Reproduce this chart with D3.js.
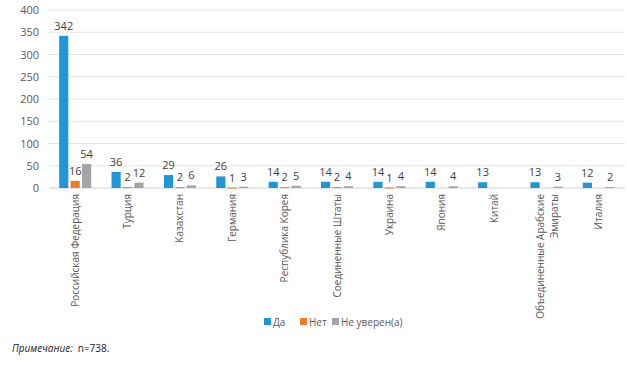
<!DOCTYPE html>
<meta charset="utf-8">
<html>
<head>
<script src="https://cdn.jsdelivr.net/npm/d3@7"></script>
<style>
body { margin: 0; background: #fff; }
text { font-family: 'Open Sans', 'Liberation Sans', sans-serif; }
</style>
</head>
<body>
<div id="chart"></div>
<script>

// data
var countries = ["Российская Федерация", "Турция", "Казахстан", "Германия", "Республика Корея",
  "Соединенные Штаты", "Украина", "Япония", "Китай", "Объединенные Арабские Эмираты", "Италия"];
var seriesNames = ["Да", "Нет", "Не уверен(а)"];
var yes = [342, 36, 29, 26, 14, 14, 14, 14, 13, 13, 12];
var no = [16, 2, 2, 1, 2, 2, 1, null, null, null, null];
var unsure = [54, 12, 6, 3, 5, 4, 4, 4, null, 3, 2];
var yTicks = [0, 50, 100, 150, 200, 250, 300, 350, 400];
var colors = ["#1F96D6", "#F47B20", "#A5A5A5"];

var W = 627, H = 369;
var margin = {top: 10, right: 2, bottom: 181, left: 49};
var width = W - margin.left - margin.right,
    height = H - margin.top - margin.bottom;

var svg = d3.select("#chart").append("svg")
  .attr("width", W).attr("height", H);
var g = svg.append("g")
  .attr("transform", "translate(" + margin.left + "," + margin.top + ")");

var x = d3.scaleBand().domain(countries).range([0, width]);
var x1 = d3.scaleBand().domain(seriesNames).range([-16, 16]).paddingInner(0.2);
var y = d3.scaleLinear().domain([0, 400]).range([height, 0]);

// gridlines
g.selectAll(".grid").data(yTicks).enter().append("line")
  .attr("x1", 0).attr("x2", width)
  .attr("y1", function(d) { return y(d); })
  .attr("y2", function(d) { return y(d); })
  .attr("stroke", function(d) { return d === 0 ? "#d0d0d0" : "#e4e4e4"; })
  .attr("stroke-width", 1);

// y axis labels
var yAxis = g.append("g").call(d3.axisLeft(y).tickValues(yTicks).tickSize(0).tickPadding(10));
yAxis.select(".domain").remove();
yAxis.selectAll("text").attr("fill", "#595959").style("font-size", "11px");

var series = [yes, no, unsure];
series.forEach(function(vals, si) {
  var name = seriesNames[si];
  var pts = countries.map(function(c, i) { return {c: c, v: vals[i]}; })
    .filter(function(d) { return d.v != null; });
  g.selectAll(".bar" + si).data(pts).enter().append("rect")
    .attr("x", function(d) { return x(d.c) + x.bandwidth() / 2 + x1(name); })
    .attr("y", function(d) { return y(d.v); })
    .attr("width", x1.bandwidth())
    .attr("height", function(d) { return Math.max(1, height - y(d.v)); })
    .attr("fill", colors[si]);
  g.selectAll(".lbl" + si).data(pts).enter().append("text")
    .attr("x", function(d) { return x(d.c) + x.bandwidth() / 2 + x1(name) + x1.bandwidth() / 2; })
    .attr("y", function(d) { return y(d.v) - 6; })
    .attr("text-anchor", "middle")
    .attr("fill", "#404040")
    .style("font-size", "11px")
    .text(function(d) { return d.v; });
});

// x labels, rotated
var xl = g.selectAll(".xl").data(countries).enter().append("text")
  .attr("transform", function(d) {
    return "translate(" + (x(d) + x.bandwidth() / 2 + 3.5) + "," + (height + 6) + ")rotate(-90)";
  })
  .attr("text-anchor", "end")
  .attr("fill", "#595959")
  .style("font-size", "10px");
xl.each(function(d) {
  var t = d3.select(this);
  if (d === "Объединенные Арабские Эмираты") {
    t.append("tspan").attr("x", 0).attr("dy", "-0.6em").text("Объединенные Арабские");
    t.append("tspan").attr("x", 0).attr("dy", "1.4em").text("Эмираты");
  } else {
    t.text(d);
  }
});

// legend
var legend = svg.append("g").attr("transform", "translate(264,322)");
var lx = [0, 36, 68];
seriesNames.forEach(function(n, i) {
  legend.append("rect").attr("x", lx[i]).attr("y", -4).attr("width", 7).attr("height", 7).attr("fill", colors[i]);
  legend.append("text").attr("x", lx[i] + 9).attr("y", 3.5)
    .attr("fill", "#595959").style("font-size", "10px").text(n);
});

// note
var note = svg.append("text").attr("x", 12).attr("y", 352)
  .attr("fill", "#222").style("font-size", "10px");
note.append("tspan").style("font-style", "italic").text("Примечание:");
note.append("tspan").attr("dx", 5).text("n=738.");

</script>
</body>
</html>
